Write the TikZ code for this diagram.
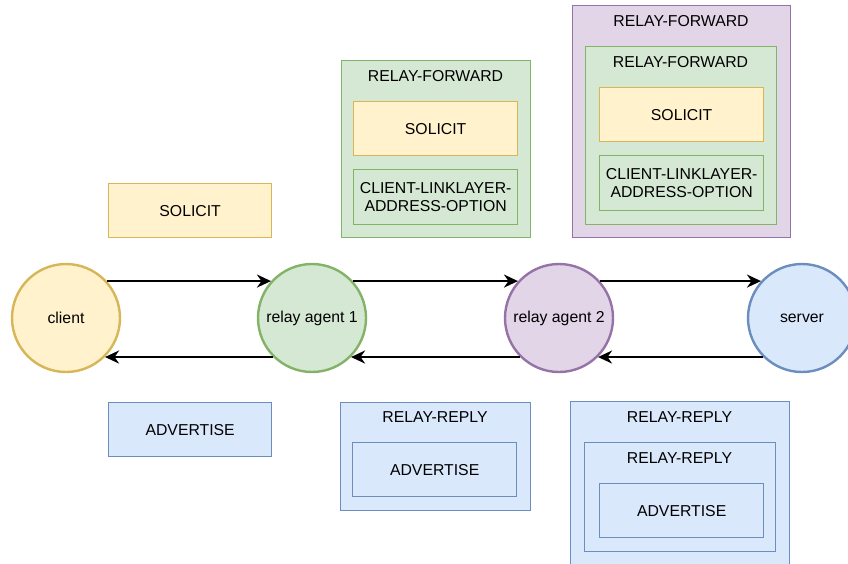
\documentclass[tikz,border=0pt]{standalone}
\usepackage{fontspec}
\setmainfont{Liberation Sans}
\usetikzlibrary{arrows.meta}
\definecolor{yelF}{HTML}{FFF2CC}\definecolor{yelD}{HTML}{D6B656}
\definecolor{grnF}{HTML}{D5E8D4}\definecolor{grnD}{HTML}{82B366}
\definecolor{bluF}{HTML}{DAE8FC}\definecolor{bluD}{HTML}{6C8EBF}
\definecolor{purF}{HTML}{E1D5E7}\definecolor{purD}{HTML}{9673A6}
\tikzset{
  every node/.style={font=\fontsize{15.8}{18.5}\selectfont, text=black},
  peer/.style={circle, minimum size=108pt, inner sep=0pt, line width=2.4pt},
  box/.style={rectangle, anchor=north west, inner sep=0pt, line width=1.3pt, align=center},
  yel/.style={box, fill=yelF, draw=yelD},
  grn/.style={box, fill=grnF, draw=grnD},
  blu/.style={box, fill=bluF, draw=bluD},
  pur/.style={box, fill=purF, draw=purD},
  ttl/.style={anchor=center, inner sep=0pt},
  msg/.style={line width=2.5pt, -{Stealth[length=14pt,width=13pt,inset=4.5pt]}}
}
\begin{document}
\begin{tikzpicture}[x=1pt,y=-1pt]
\useasboundingbox (0,0) rectangle (848,563);
\clip (0,0) rectangle (848,563);

% endpoints of the exchange
\node[peer, fill=yelF, draw=yelD] (client) at (66,318) {client};
\node[peer, fill=grnF, draw=grnD] (ra1) at (312,318) {relay agent 1};
\node[peer, fill=purF, draw=purD] (ra2) at (559,318) {relay agent 2};
\node[peer, fill=bluF, draw=bluD] (server) at (802,318) {server};

% requests go right, replies come back left
\draw[msg] (client.42) -- (ra1.138);
\draw[msg] (ra1.42) -- (ra2.138);
\draw[msg] (ra2.42) -- (server.138);
\draw[msg] (server.225) -- (ra2.315);
\draw[msg] (ra2.225) -- (ra1.315);
\draw[msg] (ra1.225) -- (client.315);

% client <-> relay agent 1
\node[yel, minimum width=163pt, minimum height=54pt] (sol0) at (108,183) {SOLICIT};
\node[blu, minimum width=163pt, minimum height=54pt] (adv0) at (108,402) {ADVERTISE};

% relay agent 1 <-> relay agent 2
\node[grn, minimum width=189pt, minimum height=177pt] (rf1) at (341,60) {};
\node[ttl] (rf1t) at (435.5,76) {RELAY-FORWARD};
\node[yel, minimum width=164pt, minimum height=54pt] (sol1) at (353,101) {SOLICIT};
\node[grn, minimum width=164pt, minimum height=55pt] (cla1) at (353,169) {CLIENT-LINKLAYER-\\ADDRESS-OPTION};

\node[blu, minimum width=190pt, minimum height=108pt] (rr1) at (340,402) {};
\node[ttl] (rr1t) at (435,417) {RELAY-REPLY};
\node[blu, minimum width=164pt, minimum height=54pt] (adv1) at (352,442) {ADVERTISE};

% relay agent 2 <-> server
\node[pur, minimum width=218pt, minimum height=232pt] (rf2o) at (572,5) {};
\node[ttl] (rf2ot) at (681,21) {RELAY-FORWARD};
\node[grn, minimum width=191pt, minimum height=178pt] (rf2i) at (585,46) {};
\node[ttl] (rf2it) at (680.5,62) {RELAY-FORWARD};
\node[yel, minimum width=164pt, minimum height=54pt] (sol2) at (599,87) {SOLICIT};
\node[grn, minimum width=164pt, minimum height=55pt] (cla2) at (599,155) {CLIENT-LINKLAYER-\\ADDRESS-OPTION};

\node[blu, minimum width=219pt, minimum height=170pt] (rr2o) at (570,401) {};
\node[ttl] (rr2ot) at (679.5,417) {RELAY-REPLY};
\node[blu, minimum width=191pt, minimum height=109pt] (rr2i) at (584,442) {};
\node[ttl] (rr2it) at (679.5,458) {RELAY-REPLY};
\node[blu, minimum width=164pt, minimum height=54pt] (adv2) at (599,483) {ADVERTISE};
\end{tikzpicture}
\end{document}
